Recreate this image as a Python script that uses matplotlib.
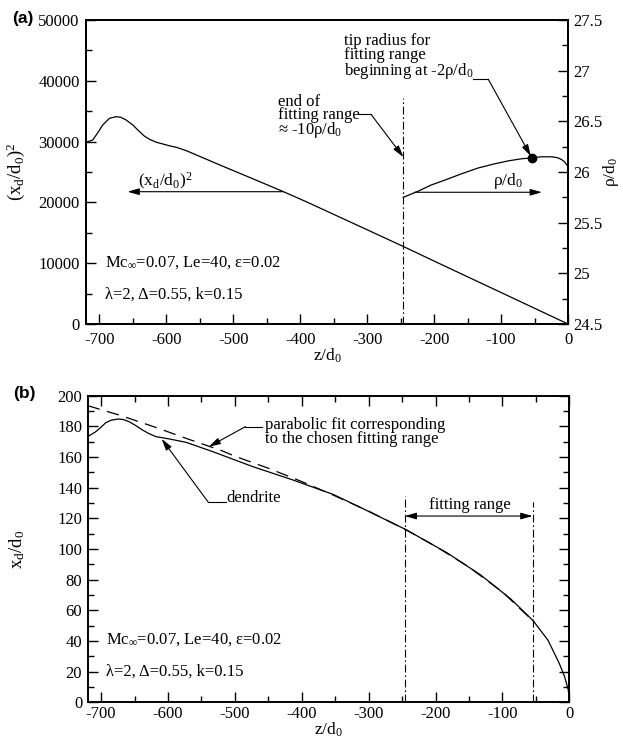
import matplotlib
matplotlib.use("Agg")
import matplotlib.pyplot as plt
from matplotlib.ticker import MultipleLocator

plt.rcParams['font.family'] = ['Liberation Serif', 'DejaVu Serif']
plt.rcParams['mathtext.fontset'] = 'custom'
plt.rcParams['mathtext.rm'] = 'Liberation Serif'
plt.rcParams['mathtext.it'] = 'Liberation Serif:italic'
plt.rcParams['mathtext.bf'] = 'Liberation Serif:bold'
plt.rcParams['axes.unicode_minus'] = False
plt.rcParams['font.size'] = 12

# panel (a): squared half-width of the dendrite, (x_d/d0)^2 vs z/d0
z_sq = [-720, -710, -703, -695, -685, -675, -668, -660, -650, -640, -633, -625,
        -615, -605, -596, -585, -570, -520, -470, -425, -391, -300, -245, -200,
        -100, 0]
xd_sq = [29890, 30260, 31360, 32730, 33830, 34100, 34000, 33550, 32730, 31630,
         30920, 30370, 29890, 29600, 29330, 29060, 28500, 26150, 23850, 21760,
         20110, 15500, 12700, 10350, 5180, 0]

# panel (a): tip radius rho/d0 from fits starting at z
z_rho = [-246, -235, -224, -205, -184, -160, -134, -110, -89, -70, -53, -40,
         -24, -15, -9, -5, -2, 0]
rho = [25.75, 25.78, 25.81, 25.87, 25.92, 25.98, 26.04, 26.08, 26.11, 26.13,
       26.14, 26.15, 26.15, 26.14, 26.12, 26.10, 26.07, 26.06]
tip_z, tip_rho = -53.4, 26.14

# panel (b): dendrite shape and parabolic fit
z_dend = [-720, -708, -700, -693, -685, -675, -667, -658, -648, -638, -628, -618,
          -598, -573, -533, -473, -413, -353, -307, -244, -182, -132, -87, -54,
          -32, -15, -7, -1.5, 0]
x_dend = [173.3, 176.5, 179.5, 182.4, 184.0, 184.8, 184.5, 183.0, 180.5, 177.6,
          175.2, 173.3, 171.8, 169.6, 163.5, 153.7, 145.0, 135.6, 126.0, 112.6,
          97.3, 82.9, 67.2, 53.2, 40.6, 25.4, 16.7, 8.0, 1.5]
z_fit = [-720, -673, -620, -573, -520, -498, -450, -400, -350, -300, -245, -200,
         -150, -100, -55]
x_fit = [193.5, 187.4, 179.6, 172.2, 164.2, 160.2, 152.7, 144.0, 134.6, 124.7,
         112.7, 101.8, 88.2, 72.0, 53.4]

fit_start, fit_end = -246, -55

dashdot = (0, (7, 2.5, 1.5, 2.5))
arrow = dict(arrowstyle='-|>,head_length=0.7,head_width=0.2', color='black',
             lw=0.8, mutation_scale=10, shrinkA=0, shrinkB=0)
lab = r'$\mathrm{Mc_{\infty}}$=0.07, Le=40, ε=0.02'
lab2 = 'λ=2, Δ=0.55, k=0.15'


def style(a, pad):
    for s in a.spines.values():
        s.set_linewidth(1.4)
    a.tick_params(which='both', direction='in', width=1, pad=pad, labelsize=12)
    a.tick_params(which='major', length=7)
    a.tick_params(which='minor', length=4)


fig = plt.figure(figsize=(6.23, 7.39), dpi=100)

# ---------------- (a)
ax = fig.add_axes([0.13804, 0.56157, 0.77368, 0.41137])
ax2 = ax.twinx()
ax.plot(z_sq, xd_sq, color='black', lw=0.9)
ax2.plot(z_rho, rho, color='black', lw=0.9)
ax2.plot(tip_z, tip_rho, 'o', color='black', ms=6)
ax.plot([fit_start, fit_start], [0, 37120], color='black', lw=0.8, ls=dashdot)

ax.set_xlim(-720, 0)
ax.set_ylim(0, 50000)
ax2.set_ylim(24.5, 27.5)
ax.xaxis.set_major_locator(MultipleLocator(100))
ax.xaxis.set_minor_locator(MultipleLocator(50))
ax.yaxis.set_major_locator(MultipleLocator(10000))
ax.yaxis.set_minor_locator(MultipleLocator(5000))
ax2.yaxis.set_major_locator(MultipleLocator(0.5))
ax2.yaxis.set_minor_locator(MultipleLocator(0.25))
style(ax, 4.5)
style(ax2, 4)
ax.tick_params(axis='x', pad=5.5)
ax.tick_params(top=False, right=False)
ax2.yaxis.set_major_formatter(plt.FuncFormatter(lambda v, p: f'{v:g}'))

ax.set_xlabel(r'$\mathrm{z/d_0}$', fontsize=12.5, labelpad=-1)
ax.set_ylabel(r'$\mathrm{(x_d/d_0)^2}$', fontsize=13.5)
ax.yaxis.set_label_coords(-0.122, 0.5)
ax2.set_ylabel(r'$\mathrm{ρ/d_0}$', fontsize=12.5)
ax2.yaxis.set_label_coords(1.068, 0.5)

ax.annotate('', xy=(-658, 21760), xytext=(-426, 21760), arrowprops=arrow)
ax.text(-601, 23500, r'$\mathrm{(x_d/d_0)^2}$', ha='center', va='center', fontsize=12.5)
ax2.annotate('', xy=(-39, 25.80), xytext=(-229, 25.80), arrowprops=arrow)
ax2.text(-89, 25.91, r'$\mathrm{ρ/d_0}$', ha='center', va='center', fontsize=12.5)

ax.text(-433.7, 37900, 'end of\nfitting range\n' + r'≈ -10ρ/d$_0$',
        ha='left', va='top', fontsize=12, linespacing=0.78)
ax.plot([-313.7, -294.3], [34490, 34490], color='black', lw=0.8)
ax.annotate('', xy=(-246, 27470), xytext=(-294.3, 34490), arrowprops=arrow)

ax.text(-334.2, 47900, 'tip radius for\nfitting range\n' + r'beginning at -2ρ/d$_0$',
        ha='left', va='top', fontsize=12, linespacing=0.85)
ax.plot([-141.5, -119.1], [40250, 40250], color='black', lw=0.8)
ax.annotate('', xy=(-55.5, 27600), xytext=(-119.1, 40250), arrowprops=arrow)

ax.text(-691.7, 10150, lab, ha='left', va='center', fontsize=12)
ax.text(-691.7, 4770, lab2, ha='left', va='center', fontsize=12)

fig.text(23 / 623, 1 - 18 / 739, '(a)', ha='center', va='center',
         fontsize=12.5, fontweight='bold', family='Liberation Sans')

# ---------------- (b)
bx = fig.add_axes([0.14077, 0.04966, 0.77303, 0.41488])
bx.plot(z_fit, x_fit, color='black', lw=0.9, ls=(0, (10, 6)))
bx.plot(z_dend, x_dend, color='black', lw=0.9)
bx.plot([fit_start, fit_start], [0, 134.6], color='black', lw=0.8, ls=dashdot)
bx.plot([fit_end, fit_end], [0, 130.9], color='black', lw=0.8, ls=dashdot)

bx.set_xlim(-720, 0)
bx.set_ylim(0, 200)
bx.xaxis.set_major_locator(MultipleLocator(100))
bx.xaxis.set_minor_locator(MultipleLocator(50))
bx.yaxis.set_major_locator(MultipleLocator(20))
bx.yaxis.set_minor_locator(MultipleLocator(10))
style(bx, 3)
bx.tick_params(which='both', top=True, right=True)
bx.tick_params(axis='y', pad=4)

bx.set_xlabel(r'$\mathrm{z/d_0}$', fontsize=12.5, labelpad=-1)
bx.set_ylabel(r'$\mathrm{x_d/d_0}$', fontsize=13.5)
bx.yaxis.set_label_coords(-0.127, 0.5)

bx.annotate('', xy=(fit_start, 121.5), xytext=(fit_end, 121.5),
            arrowprops=dict(arrow, arrowstyle='<|-|>,head_length=0.7,head_width=0.2'))
bx.text(-148.5, 125.9, 'fitting range', ha='center', va='baseline', fontsize=12)

bx.text(-455, 169.3, 'parabolic fit corresponding\nto the chosen fitting range',
        ha='left', va='baseline', fontsize=12, linespacing=0.85)
bx.plot([-484.3, -459.3], [179.8, 179.8], color='black', lw=0.8)
bx.annotate('', xy=(-538.9, 166.7), xytext=(-484.3, 179.8), arrowprops=arrow)

bx.text(-512.2, 130.9, 'dendrite', ha='left', va='baseline', fontsize=12)
bx.plot([-539.7, -513.2], [130.5, 130.5], color='black', lw=0.8)
bx.annotate('', xy=(-609.4, 171.8), xytext=(-539.7, 130.5), arrowprops=arrow)

bx.text(-692, 41.1, lab, ha='left', va='center', fontsize=12)
bx.text(-692, 20.0, lab2, ha='left', va='center', fontsize=12)

fig.text(24 / 623, 1 - 393.3 / 739, '(b)', ha='center', va='center',
         fontsize=12.5, fontweight='bold', family='Liberation Sans')

fig.savefig('out.png', dpi=100)
